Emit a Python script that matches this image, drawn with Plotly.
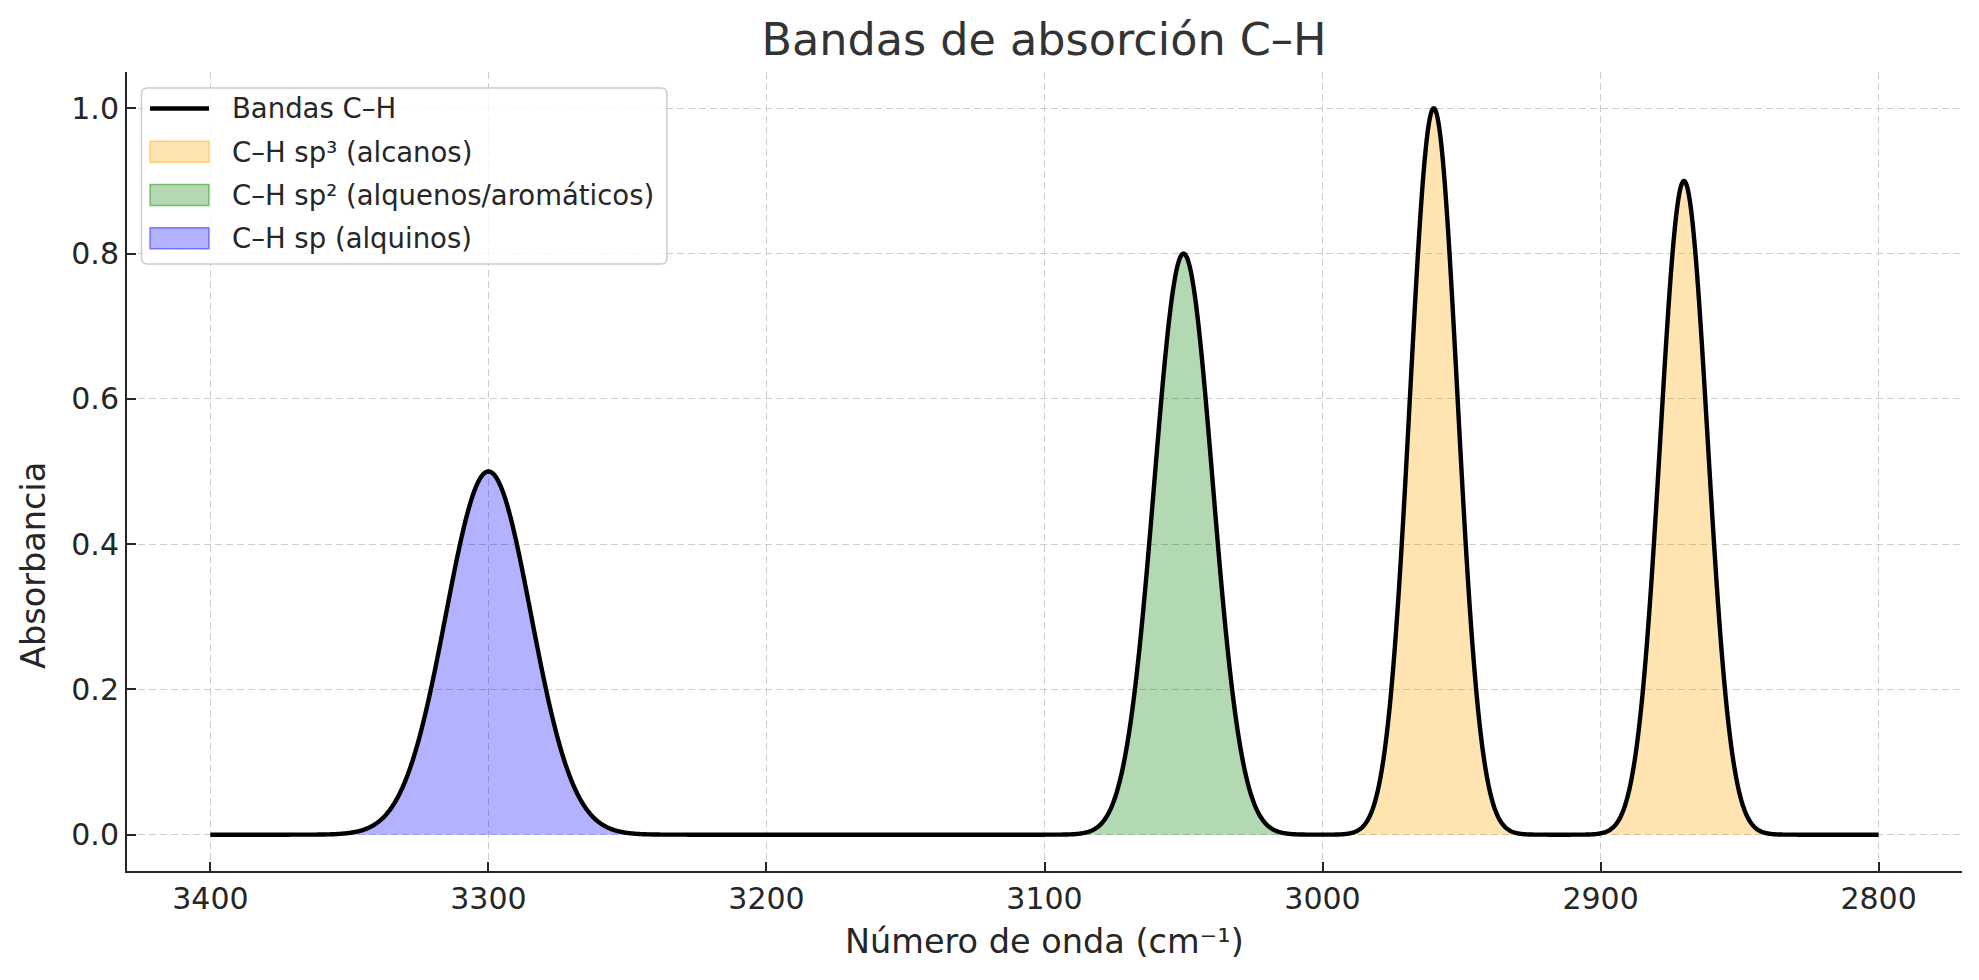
import numpy as np
import plotly.graph_objects as go

# ---- data ----
peak_centers = [3300, 3050, 2960, 2870]      # cm^-1
peak_heights = [0.5, 0.8, 1.0, 0.9]          # absorbance
peak_sigmas = [15.3, 10.5, 8.5, 8.5]         # cm^-1 (gaussian width)

line_name = "Bandas C–H"
band_names = ["C–H sp³ (alcanos)", "C–H sp² (alquenos/aromáticos)", "C–H sp (alquinos)"]
band_low = [2800, 3000, 3200]
band_high = [3000, 3100, 3400]
band_colors = ["rgba(255,165,0,0.3)", "rgba(0,128,0,0.3)", "rgba(0,0,255,0.3)"]
band_edges = ["rgba(255,165,0,0.45)", "rgba(0,128,0,0.45)", "rgba(0,0,255,0.45)"]

x_ticks = [3400, 3300, 3200, 3100, 3000, 2900, 2800]
y_ticks = [0.0, 0.2, 0.4, 0.6, 0.8, 1.0]

wn = np.linspace(3400, 2800, 2401)
absorb = np.zeros_like(wn)
for c, h, s in zip(peak_centers, peak_heights, peak_sigmas):
    absorb += h * np.exp(-((wn - c) ** 2) / (2 * s ** 2))

TXT = "#262626"
FONT = "DejaVu Sans"

fig = go.Figure()
for i, name in enumerate(band_names):
    m = (wn >= band_low[i]) & (wn <= band_high[i])
    fig.add_trace(go.Scatter(
        x=wn[m], y=absorb[m], mode="lines", fill="tozeroy",
        fillcolor=band_colors[i], line=dict(color=band_edges[i], width=1.5),
        name=name, showlegend=False, hoverinfo="skip"))

fig.add_trace(go.Scatter(
    x=wn, y=absorb, mode="lines", line=dict(color="black", width=4.4, simplify=False),
    name=line_name, showlegend=False))

# page offset (default body margin of the html page)
OFF = 8
W, H = 1979 - OFF, 980 - OFF
L, R, T, B = 127 - OFF, 17, 72 - OFF, 109
pw, ph = W - L - R, H - T - B


def px_x(p):
    return (p - OFF - L) / pw


def px_y(p):
    return 1 - (p - OFF - T) / ph


def rounded_rect(x0, y0, x1, y1, r):
    rx, ry = r / pw, r / ph
    X0, X1 = px_x(x0), px_x(x1)
    Y0, Y1 = px_y(y0), px_y(y1)  # Y0 top, Y1 bottom
    return (f"M{X0 + rx},{Y0} L{X1 - rx},{Y0} Q{X1},{Y0} {X1},{Y0 - ry} "
            f"L{X1},{Y1 + ry} Q{X1},{Y1} {X1 - rx},{Y1} L{X0 + rx},{Y1} "
            f"Q{X0},{Y1} {X0},{Y1 + ry} L{X0},{Y0 - ry} Q{X0},{Y0} {X0 + rx},{Y0} Z")


shapes = []
annotations = []

# ---- legend drawn in the matplotlib style ----
shapes.append(dict(type="path", xref="paper", yref="paper",
                   path=rounded_rect(141.5, 88, 667, 264, 6),
                   fillcolor="rgba(255,255,255,0.8)",
                   line=dict(color="#cccccc", width=1.5), layer="above"))
rows = [108.5, 151.8, 195.0, 238.3]
sx0, sx1, tx = 150, 209, 230
shapes.append(dict(type="line", xref="paper", yref="paper",
                   x0=px_x(sx0), x1=px_x(sx1), y0=px_y(rows[0]), y1=px_y(rows[0]),
                   line=dict(color="black", width=4.4), layer="above"))
annotations.append(dict(text=line_name, x=px_x(tx), y=px_y(rows[0]), xref="paper", yref="paper",
                        xanchor="left", yanchor="middle", showarrow=False,
                        font=dict(size=27.5, color=TXT, family=FONT)))
for i, name in enumerate(band_names):
    yc = rows[i + 1]
    shapes.append(dict(type="rect", xref="paper", yref="paper",
                       x0=px_x(sx0), x1=px_x(sx1), y0=px_y(yc - 10.5), y1=px_y(yc + 10.5),
                       fillcolor=band_colors[i], line=dict(color=band_edges[i], width=1.5),
                       layer="above"))
    annotations.append(dict(text=name, x=px_x(tx), y=px_y(yc), xref="paper", yref="paper",
                            xanchor="left", yanchor="middle", showarrow=False,
                            font=dict(size=27.5, color=TXT, family=FONT)))

# ---- axis titles ----
annotations.append(dict(text="Número de onda (cm⁻¹)", x=px_x(1044), y=px_y(941),
                        xref="paper", yref="paper", xanchor="center", yanchor="middle",
                        showarrow=False, font=dict(size=33.5, color=TXT, family=FONT)))
annotations.append(dict(text="Absorbancia", x=px_x(33), y=px_y(566), xref="paper", yref="paper",
                        xanchor="center", yanchor="middle", showarrow=False, textangle=-90,
                        font=dict(size=33.5, color=TXT, family=FONT)))

fig.update_layout(
    width=W, height=H,
    margin=dict(l=L, r=R, t=T, b=B),
    paper_bgcolor="white", plot_bgcolor="white",
    font=dict(family=FONT, color=TXT),
    title=dict(text="Bandas de absorción C–H", x=px_x(1044), xanchor="center",
               xref="paper", y=1 - (39 - OFF) / H, yanchor="middle", yref="container",
               font=dict(size=44.5, color="#333333", family=FONT)),
    showlegend=False,
    shapes=shapes,
    annotations=annotations,
)

axis_style = dict(showgrid=True, gridcolor="#cccccc", gridwidth=1.3, griddash="7px,4px",
                  zeroline=False, showline=True, linecolor=TXT, linewidth=2,
                  ticks="inside", ticklen=9, tickwidth=2, tickcolor=TXT, automargin=False,
                  tickfont=dict(size=30, color=TXT, family=FONT))

fig.update_xaxes(range=[3430, 2770], tickvals=x_ticks, ticktext=[str(v) for v in x_ticks],
                 **axis_style)
fig.update_yaxes(range=[-0.05, 1.05], tickvals=y_ticks, ticktext=[f"{v:.1f}" for v in y_ticks],
                 **axis_style)

fig.write_html("out.html")
